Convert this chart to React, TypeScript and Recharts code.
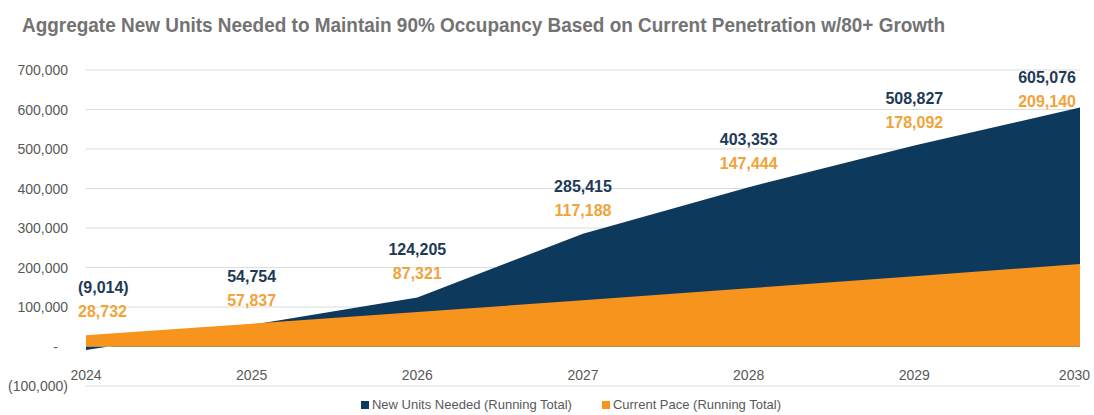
import { ComposedChart, Area, Line, XAxis, YAxis, CartesianGrid, LabelList } from "recharts";

const years = ["2024", "2025", "2026", "2027", "2028", "2029", "2030"];
const unitsNeeded = [-9014, 54754, 124205, 285415, 403353, 508827, 605076];
const currentPace = [28732, 57837, 87321, 117188, 147444, 178092, 209140];
const yTicks = [-100000, 0, 100000, 200000, 300000, 400000, 500000, 600000, 700000];

const NAVY = "#0d3a5c";
const ORANGE = "#f7941d";

const data = years.map((y, i) => ({
  year: y,
  needed: unitsNeeded[i],
  pace: currentPace[i],
  anchor: Math.max(unitsNeeded[i], currentPace[i]),
}));

const fmt = (v: number) =>
  v === 0 ? "-" : v < 0 ? `(${Math.abs(v).toLocaleString("en-US")})` : v.toLocaleString("en-US");

function YTick({ x, y, payload }: any) {
  const v = payload.value;
  return (
    <text x={v === 0 ? x - 10 : x} y={y} dy={5} textAnchor="end" fontSize={14} fill="#595959"
      fontFamily="Liberation Sans, Arial, sans-serif">
      {fmt(v)}
    </text>
  );
}

function XTick({ x, y, payload, index }: any) {
  const last = index === years.length - 1;
  return (
    <text x={last ? x + 10 : x} y={y - 19} dy={5} textAnchor={last ? "end" : "middle"} fontSize={14} fill="#595959"
      fontFamily="Liberation Sans, Arial, sans-serif">
      {payload.value}
    </text>
  );
}

function PairLabel({ x, y, index }: any) {
  const last = years.length - 1;
  const anchor = index === 0 ? "start" : index === last ? "end" : "middle";
  const lx = index === 0 ? x - 8 : index === last ? x - 4 : x;
  const ty = Math.max(y - 48, 77);
  return (
    <g fontFamily="Liberation Sans, Arial, sans-serif" fontWeight="bold" fontSize={16}>
      <text x={lx} y={ty} dy={6} textAnchor={anchor} fill="#1e3a56">{fmt(unitsNeeded[index])}</text>
      <text x={lx} y={ty + 24} dy={6} textAnchor={anchor} fill="#f2a33a">{fmt(currentPace[index])}</text>
    </g>
  );
}

export default function App() {
  return (
    <div style={{ position: "absolute", left: 0, top: 0, width: 1094, height: 415, background: "#fff" }}>
      <svg width={1094} height={50} style={{ position: "absolute", left: 0, top: 0 }}>
        <text x={22} y={32} fontSize={21} fontWeight="bold" fill="#737373" textLength={923}
          lengthAdjust="spacingAndGlyphs" fontFamily="Liberation Sans Narrow, Liberation Sans, Arial, sans-serif">
          Aggregate New Units Needed to Maintain 90% Occupancy Based on Current Penetration w/80+ Growth
        </text>
      </svg>
      <ComposedChart width={1094} height={415} data={data} margin={{ top: 70, right: 14, bottom: 0, left: 0 }}>
        <CartesianGrid horizontal vertical={false} stroke="#dcdcdc" />
        <XAxis dataKey="year" height={29} axisLine={false} tickLine={false} tick={<XTick />} interval={0} />
        <YAxis width={86} domain={[-100000, 700000]} ticks={yTicks} axisLine={false} tickLine={false}
          tickSize={0} tickMargin={18} tick={<YTick />} interval={0} />
        <Area dataKey="needed" type="linear" stroke="none" fill={NAVY} fillOpacity={1} isAnimationActive={false} />
        <Area dataKey="pace" type="linear" stroke="none" fill={ORANGE} fillOpacity={1} isAnimationActive={false} />
        <Line dataKey="anchor" stroke="none" dot={false} activeDot={false} isAnimationActive={false}>
          <LabelList dataKey="anchor" content={<PairLabel />} />
        </Line>
      </ComposedChart>
      <div style={{ position: "absolute", top: 397, left: 0, width: 1094, display: "flex", justifyContent: "center",
        gap: 30, fontFamily: "Liberation Sans, Arial, sans-serif", fontSize: 13, color: "#595959", paddingLeft: 24 }}>
        <span style={{ display: "flex", alignItems: "center" }}>
          <span style={{ width: 8, height: 8, background: NAVY, marginRight: 3, display: "inline-block" }} />
          New Units Needed (Running Total)
        </span>
        <span style={{ display: "flex", alignItems: "center" }}>
          <span style={{ width: 8, height: 8, background: ORANGE, marginRight: 3, display: "inline-block" }} />
          Current Pace (Running Total)
        </span>
      </div>
    </div>
  );
}
